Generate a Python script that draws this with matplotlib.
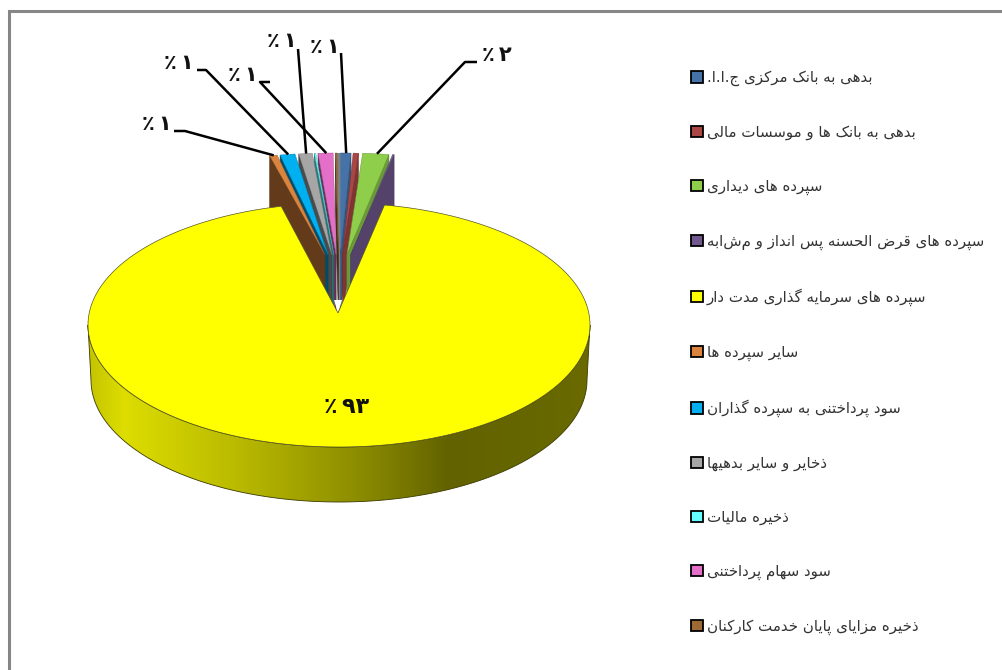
#!/usr/bin/env python3
"""Exploded 3D-look pie of a Persian balance sheet, drawn by hand since matplotlib has no 3D pie."""

import numpy as np
import matplotlib
matplotlib.use("Agg")
import matplotlib.pyplot as plt
from matplotlib.colors import LinearSegmentedColormap, to_rgb
from matplotlib.patches import Patch, Polygon

LABELS = [
    "بدهی به بانک مرکزی ج.ا.ا.",
    "بدهی به بانک ها و موسسات مالی",
    "سپرده های دیداری",
    "سپرده های قرض الحسنه پس انداز و مشابه",
    "سپرده های سرمایه گذاری مدت دار",
    "سایر سپرده ها",
    "سود پرداختنی به سپرده گذاران",
    "ذخایر و سایر بدهیها",
    "ذخیره مالیات",
    "سود سهام پرداختنی",
    "ذخیره مزایای پایان خدمت کارکنان",
]
VALUES = [0.7, 0.35, 1.75, 0.1, 93.4, 0.5, 1.0, 0.9, 0.1, 1.0, 0.1]
COLORS = ["#4572a7", "#aa4643", "#8fce4a", "#71588f", "#ffff00", "#db843d",
          "#00b0f0", "#a6a6a6", "#66ffff", "#e46fc8", "#9c6a32"]
PCT_TEXT = ["٪\u2009۱", None, "٪\u2009۲", None, "٪\u2009۹۳", "٪\u2009۱", "٪\u2009۱", "٪\u2009۱", None, "٪\u2009۱", None]

# shaped forms: isolated, final, initial, medial
FORMS = {
    "ا": "\ufe8d\ufe8e", "د": "\ufea9\ufeaa", "ذ": "\ufeab\ufeac", "ر": "\ufead\ufeae",
    "ز": "\ufeaf\ufeb0", "و": "\ufeed\ufeee",
    "ب": "\ufe8f\ufe90\ufe91\ufe92", "پ": "\ufb56\ufb57\ufb58\ufb59", "ت": "\ufe95\ufe96\ufe97\ufe98",
    "ج": "\ufe9d\ufe9e\ufe9f\ufea0", "ح": "\ufea1\ufea2\ufea3\ufea4", "خ": "\ufea5\ufea6\ufea7\ufea8",
    "س": "\ufeb1\ufeb2\ufeb3\ufeb4", "ض": "\ufebd\ufebe\ufebf\ufec0", "ق": "\ufed5\ufed6\ufed7\ufed8",
    "ک": "\ufb8e\ufb8f\ufb90\ufb91", "گ": "\ufb92\ufb93\ufb94\ufb95", "ل": "\ufedd\ufede\ufedf\ufee0",
    "م": "\ufee1\ufee2\ufee3\ufee4", "ن": "\ufee5\ufee6\ufee7\ufee8", "ه": "\ufee9\ufeea\ufeeb\ufeec",
    "ی": "\ufbfc\ufbfd\ufbfe\ufbff", "ص": "\ufeb9\ufeba\ufebb\ufebc",
}


def shape(text):
    # matplotlib has no bidi or joining, so pick the forms here and reverse
    out = []
    for i, ch in enumerate(text):
        f = FORMS.get(ch)
        if f is None:
            out.append(ch)
            continue
        prev = FORMS.get(text[i - 1]) if i else None
        nxt = FORMS.get(text[i + 1]) if i + 1 < len(text) else None
        from_prev = prev is not None and len(prev) == 4
        to_next = nxt is not None and len(f) == 4
        if len(f) == 2:
            out.append(f[1] if from_prev else f[0])
        elif from_prev and to_next:
            out.append(f[3])
        elif to_next:
            out.append(f[2])
        elif from_prev:
            out.append(f[1])
        else:
            out.append(f[0])
    return "".join(reversed(out))


def darken(c, k=0.45):
    return tuple(v * k for v in to_rgb(c))


CX, CY, A, B = 339, 325, 251, 122
DEPTH = 55
FAN_A, FAN_B, FAN_Y, FAN_DEPTH, FAN_EX = 240, 102, 255, 58, 65
NOTCH_Y = 313

# leader start (elbow end, elbow) and text spot for each labelled slice
LEADERS = {0: ((341, 53), (341, 53), (325, 47)),
           2: ((477, 62), (465, 62), (497, 55)),
           5: ((174, 131), (185, 131), (157, 124)),
           6: ((197, 70), (206, 70), (179, 63)),
           7: ((298, 49), (298, 49), (282, 41)),
           9: ((270, 82), (260, 82), (243, 75))}

fig = plt.figure(figsize=(10.03, 6.7), dpi=100)
ax = fig.add_axes([0, 0, 1, 1])
ax.set_xlim(0, 1003)
ax.set_ylim(670, 0)
ax.axis("off")

ax.plot([9.5, 9.5, 1003], [670, 10.5, 10.5], color="#868686", lw=2.2, solid_joinstyle="miter", zorder=1)

angles = np.cumsum([0] + VALUES) * 3.6
YEL = LABELS.index("سپرده های سرمایه گذاری مدت دار")


def fan_slice(i):
    t0, t1 = np.radians(angles[i]), np.radians(angles[i + 1])
    mid = (t0 + t1) / 2
    apex = np.array([CX + FAN_EX * np.sin(mid), FAN_Y])
    tt = np.linspace(t0, t1, 12)
    arc = np.column_stack([apex[0] + FAN_A * np.sin(tt), FAN_Y - FAN_B * np.cos(tt)])
    return apex, arc


def draw_fan(i, side):
    apex, arc = fan_slice(i)
    outer = arc[-1] if side > 0 else arc[0]
    down = np.array([0, FAN_DEPTH])
    wall = darken(COLORS[i], 0.75 if side > 0 else 0.45)
    ax.add_patch(Polygon([outer, apex, apex + down, outer + down], closed=True,
                         fc=wall, ec=darken(wall, 0.8), lw=0.4, zorder=3))
    ax.add_patch(Polygon(np.vstack([apex, arc]), closed=True, fc=COLORS[i],
                         ec=darken(COLORS[i], 0.7), lw=0.3, zorder=3))


# grey inner wall seen in the gap either side of twelve o'clock
a_left, arc_left = fan_slice(len(VALUES) - 1)
a_right, arc_right = fan_slice(0)
ax.add_patch(Polygon([arc_left[-1], arc_right[0], a_right + [0, FAN_DEPTH], a_left + [0, FAN_DEPTH]],
                     closed=True, fc="#808080", ec="none", zorder=2.5))

# near the centre first so the outer slices lie over the walls behind them
for i in range(YEL):
    draw_fan(i, 1)
for i in range(len(VALUES) - 1, YEL, -1):
    draw_fan(i, -1)
ax.add_patch(Polygon([[CX - 1, NOTCH_Y], [CX - 5, NOTCH_Y - 13], [CX + 3, NOTCH_Y - 13]],
                     closed=True, fc="white", ec="none", zorder=4.5))

# big slice: side wall with its gradient, then the top
tt = np.radians(np.linspace(90, 270, 200))
rim = np.column_stack([CX + A * np.sin(tt), CY - B * np.cos(tt)])
low = np.column_stack([CX + (A - 3) * np.sin(tt), CY + DEPTH - B * np.cos(tt)])
side = Polygon(np.vstack([rim, low[::-1]]), closed=True, fc="none", ec="#3a3a00", lw=0.6, zorder=4)
ax.add_patch(side)
stops = [(0.0, "#c4c400"), (0.07, "#dddd00"), (0.3, "#b9b900"), (0.55, "#8a8a00"),
         (0.72, "#626200"), (1.0, "#6a6a00")]
cmap = LinearSegmentedColormap.from_list("side", stops)
im = ax.imshow(np.linspace(0, 1, 256)[None, :], cmap=cmap, aspect="auto",
               extent=(CX - A, CX + A, CY + DEPTH + B, CY), zorder=3.5)
im.set_clip_path(side)
ax.set_xlim(0, 1003)
ax.set_ylim(670, 0)

tt = np.radians(np.linspace(angles[YEL], angles[YEL + 1], 400))
top = np.column_stack([CX + A * np.sin(tt), CY - B * np.cos(tt)])
ax.add_patch(Polygon(np.vstack([[CX - 1, NOTCH_Y], top]), closed=True, fc=COLORS[YEL],
                     ec="#55552a", lw=0.5, zorder=5))

for i, (start, elbow, spot) in LEADERS.items():
    _, arc = fan_slice(i)
    end = arc[len(arc) // 2]
    ax.plot([start[0], elbow[0], end[0]], [start[1], elbow[1], end[1]], color="black", lw=1.8,
            solid_capstyle="butt", zorder=6)
    ax.text(spot[0], spot[1], PCT_TEXT[i], fontsize=15, fontweight="bold", ha="center", va="center",
            color="#111111", zorder=7)
ax.text(347, 407, PCT_TEXT[YEL], fontsize=16, fontweight="bold", ha="center", va="center",
        color="#111111", zorder=7)

handles = [Patch(fc=c, ec="black", lw=1.3, label=shape(t)) for c, t in zip(COLORS, LABELS)]
ax.legend(handles=handles, loc="upper left", bbox_to_anchor=(691, 70), bbox_transform=ax.transData,
          frameon=False, fontsize=10.8, handlelength=0.8, handleheight=0.8, handletextpad=0.27,
          labelspacing=2.575, borderpad=0, borderaxespad=0, labelcolor="#333333")

fig.savefig("out.png", dpi=100, facecolor="white")
